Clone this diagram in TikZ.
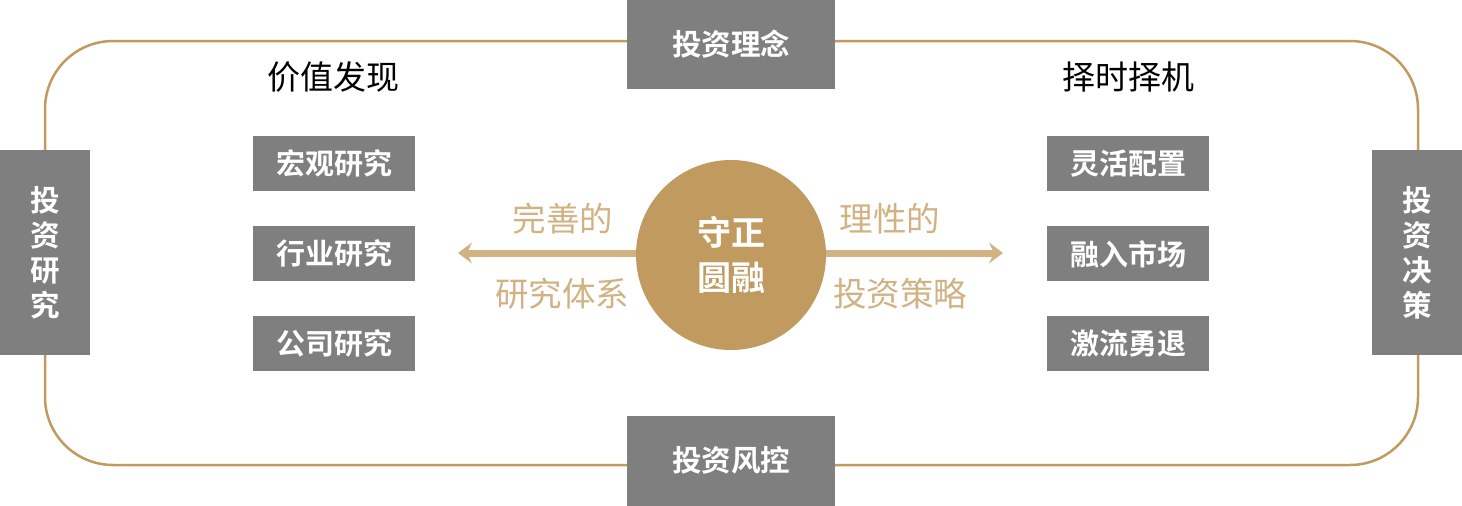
\documentclass[tikz,border=0pt]{standalone}
\usepackage{fontspec}
\setmainfont{Noto Sans CJK SC}[BoldFont={Noto Sans CJK SC Bold}]
\usepackage{tikz}
\usetikzlibrary{positioning}
\usetikzlibrary{calc}
\usetikzlibrary{arrows.meta}
\definecolor{boxgrey}{HTML}{7F7F7F}
\definecolor{gold}{HTML}{C09A5E}
\definecolor{lightgold}{HTML}{D0B283}
\tikzset{
    % Broad arrows leaving the centre disc
    >={Stealth[length=14pt,width=21pt,inset=5pt]},
%
    % The grey boxes round the outer frame
    side box/.style={
        fill=boxgrey, text=white, font=\bfseries\fontsize{29.5}{35}\selectfont,
        inner sep=0, align=center},
%
    % The smaller grey boxes in the two columns
    item box/.style={
        fill=boxgrey, text=white, font=\bfseries\fontsize{29}{34}\selectfont,
        inner sep=0, minimum width=162pt, minimum height=55pt},
%
    % Column headings
    heading/.style={font=\fontsize{33}{38}\selectfont, text=black},
%
    % Captions along the arrows
    arrow text/.style={font=\fontsize{33.5}{38}\selectfont, text=lightgold},
%
    % The frame joining the four side boxes
    frame line/.style={draw=gold, line width=2.5pt}}

\begin{document}
\begin{tikzpicture}[x=1pt, y=-1pt]

\useasboundingbox (0,0) rectangle (1462,506);

% Rounded frame behind everything
\draw[frame line, rounded corners=68pt] (45,41) rectangle (1418,465);

% Four boxes sitting on the frame
\node[side box, minimum width=208pt, minimum height=89pt]
    (philosophy) at (731,44.5) {投资理念};
\node[side box, minimum width=208pt, minimum height=90pt]
    (risk control) at (731,460.5) {投资风控};
\node[side box, minimum width=90pt, minimum height=205pt]
    (research) at (45,252.5) {投\\资\\研\\究};
\node[side box, minimum width=90pt, minimum height=205pt]
    (decision) at (1417,252.5) {投\\资\\决\\策};

% Value discovery column
\node[heading] (value) at (333,77) {价值发现};
\node[item box] (macro) at (334,163.5) {宏观研究};
\node[item box, below=35pt of macro] (industry) {行业研究};
\node[item box, below=34pt of industry] (company) {公司研究};

% Timing column
\node[heading] (timing) at (1128,77) {择时择机};
\node[item box] (allocation) at (1128,163.5) {灵活配置};
\node[item box, below=35pt of allocation] (market) {融入市场};
\node[item box, below=34pt of market] (retreat) {激流勇退};

% Centre disc
\node[circle, fill=gold, minimum size=190pt, inner sep=0, text=white,
    font=\bfseries\fontsize{34}{45}\selectfont, align=center]
    (centre) at (731,255) {守正\\圆融};

% Arrows out of the disc
\coordinate (left end) at (458,253);
\coordinate (right end) at (1003,253);
\draw[->, draw=lightgold, line width=7pt] (centre.west |- left end) -- (left end);
\draw[->, draw=lightgold, line width=7pt] (centre.east |- right end) -- (right end);

\node[arrow text] (complete) at (563,219) {完善的};
\node[arrow text] (system) at (562,294) {研究体系};
\node[arrow text] (rational) at (890,219) {理性的};
\node[arrow text] (strategy) at (900,294) {投资策略};

\end{tikzpicture}
\end{document}
